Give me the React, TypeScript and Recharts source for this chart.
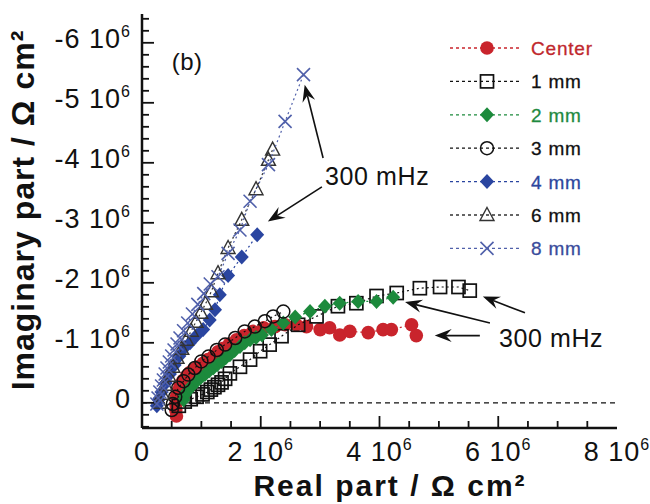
import React from 'react';
import {
  ScatterChart,
  Scatter,
  XAxis,
  YAxis,
  ReferenceLine,
  ReferenceDot,
  Legend,
} from 'recharts';

const FONT = '"Liberation Sans", Arial, Helvetica, sans-serif';
const INK = '#111';

// impedance in units of 10^6 Ω cm² (real part, imaginary part)
const centerRe = [0.58, 0.57, 0.57, 0.58, 0.61, 0.64, 0.69, 0.75, 0.8, 0.86, 0.94, 1.03, 1.11, 1.2, 1.28, 1.37, 1.47, 1.59, 1.72, 1.87, 2.05, 2.24, 2.41, 2.6, 2.77, 3.0, 3.16, 3.33, 3.5, 3.81, 4.06, 4.2, 4.54, 4.62];
const centerIm = [0.22, 0.12, 0.02, -0.1, -0.2, -0.3, -0.37, -0.44, -0.5, -0.55, -0.6, -0.66, -0.72, -0.77, -0.85, -0.91, -0.98, -1.05, -1.12, -1.19, -1.25, -1.27, -1.3, -1.3, -1.27, -1.22, -1.25, -1.13, -1.19, -1.17, -1.22, -1.22, -1.3, -1.12];

const mm1Re = [0.62, 0.72, 0.82, 0.92, 1.02, 1.1, 1.16, 1.22, 1.28, 1.34, 1.4, 1.48, 1.65, 1.82, 1.99, 2.15, 2.35, 2.63, 2.94, 3.3, 3.61, 3.95, 4.29, 4.68, 5.02, 5.33, 5.52];
const mm1Im = [0.05, -0.02, -0.06, -0.1, -0.14, -0.18, -0.22, -0.26, -0.3, -0.34, -0.4, -0.49, -0.6, -0.72, -0.86, -0.97, -1.11, -1.3, -1.44, -1.61, -1.66, -1.78, -1.83, -1.91, -1.93, -1.93, -1.87];

const mm2Re = [0.7, 0.72, 0.76, 0.81, 0.86, 0.92, 0.99, 1.06, 1.13, 1.2, 1.27, 1.34, 1.41, 1.48, 1.56, 1.65, 1.73, 1.82, 1.92, 2.02, 2.18, 2.38, 2.58, 2.83, 3.08, 3.33, 3.64, 3.95, 4.23];
const mm2Im = [-0.05, -0.13, -0.19, -0.25, -0.3, -0.36, -0.42, -0.47, -0.53, -0.58, -0.64, -0.69, -0.75, -0.8, -0.87, -0.94, -1.0, -1.05, -1.09, -1.13, -1.22, -1.33, -1.43, -1.52, -1.61, -1.66, -1.69, -1.69, -1.76];

const mm3Re = [0.5, 0.52, 0.56, 0.61, 0.7, 0.78, 0.89, 1.0, 1.12, 1.26, 1.4, 1.57, 1.73, 1.9, 2.07, 2.21, 2.38];
const mm3Im = [0.12, 0.02, -0.1, -0.25, -0.36, -0.47, -0.58, -0.69, -0.77, -0.88, -0.97, -1.08, -1.19, -1.27, -1.36, -1.44, -1.52];

const mm4Re = [0.25, 0.28, 0.33, 0.4, 0.47, 0.55, 0.63, 0.72, 0.81, 0.92, 1.03, 1.14, 1.23, 1.31, 1.45, 1.68, 1.94];
const mm4Im = [0.05, -0.05, -0.18, -0.33, -0.48, -0.63, -0.78, -0.92, -1.0, -1.12, -1.22, -1.38, -1.55, -1.8, -2.12, -2.43, -2.8];

const mm6Re = [0.3, 0.34, 0.39, 0.45, 0.52, 0.59, 0.67, 0.75, 0.83, 0.91, 0.99, 1.07, 1.17, 1.28, 1.45, 1.68, 1.92, 2.13, 2.2];
const mm6Im = [0.0, -0.15, -0.3, -0.45, -0.6, -0.75, -0.9, -1.05, -1.2, -1.35, -1.5, -1.65, -1.86, -2.16, -2.58, -3.05, -3.56, -4.05, -4.22];

const mm8Re = [0.25, 0.27, 0.3, 0.33, 0.36, 0.39, 0.42, 0.46, 0.5, 0.54, 0.59, 0.64, 0.7, 0.77, 0.85, 0.94, 1.04, 1.15, 1.28, 1.45, 1.65, 1.82, 2.13, 2.41, 2.72];
const mm8Im = [0.02, -0.08, -0.18, -0.28, -0.38, -0.48, -0.58, -0.68, -0.78, -0.88, -0.98, -1.08, -1.2, -1.33, -1.48, -1.64, -1.82, -1.98, -2.1, -2.49, -2.88, -3.36, -3.97, -4.69, -5.47];

const yMajor = [-6, -5, -4, -3, -2, -1, 0];
const xTicks = Array.from({ length: 17 }, (_, i) => i / 2);
const yTicks = Array.from({ length: 35 }, (_, i) => (i - 32) / 5);

const zip = (re: number[], im: number[]) => re.map((x, i) => ({ x, y: im[i] }));

type Kind = 'dot' | 'square' | 'diamond' | 'circle' | 'triangle' | 'cross';

const series: { name: string; data: { x: number; y: number }[]; color: string; text: string; kind: Kind }[] = [
  { name: 'Center', data: zip(centerRe, centerIm), color: '#c9242c', text: '#c0272d', kind: 'dot' },
  { name: '1 mm', data: zip(mm1Re, mm1Im), color: INK, text: INK, kind: 'square' },
  { name: '2 mm', data: zip(mm2Re, mm2Im), color: '#1c8a3c', text: '#1f8a3f', kind: 'diamond' },
  { name: '3 mm', data: zip(mm3Re, mm3Im), color: INK, text: INK, kind: 'circle' },
  { name: '4 mm', data: zip(mm4Re, mm4Im), color: '#2a45a0', text: '#2c479e', kind: 'diamond' },
  { name: '6 mm', data: zip(mm6Re, mm6Im), color: '#333', text: INK, kind: 'triangle' },
  { name: '8 mm', data: zip(mm8Re, mm8Im), color: '#5060aa', text: '#3a4c9c', kind: 'cross' },
];

// annotation arrows: tail -> head, in data units
const arrows = [
  [{ x: 3.05, y: -4.08 }, { x: 2.74, y: -5.3 }],
  [{ x: 3.03, y: -3.6 }, { x: 2.12, y: -3.02 }],
  [{ x: 6.45, y: -1.5 }, { x: 5.74, y: -1.77 }],
  [{ x: 5.86, y: -1.33 }, { x: 4.43, y: -1.68 }],
  [{ x: 5.69, y: -1.12 }, { x: 4.93, y: -1.12 }],
];
const noteSpots = [
  { x: 3.96, y: -3.78 },
  { x: 6.89, y: -1.08 },
];

function Marker({ kind, cx, cy, color }: { kind: Kind; cx: number; cy: number; color: string }) {
  switch (kind) {
    case 'dot':
      return <circle cx={cx} cy={cy} r={6.8} fill={color} />;
    case 'square':
      return <rect x={cx - 6.5} y={cy - 6.5} width={13} height={13} fill="none" stroke={color} strokeWidth={1.7} />;
    case 'diamond':
      return <path d={`M${cx},${cy - 7.5}L${cx + 7},${cy}L${cx},${cy + 7.5}L${cx - 7},${cy}Z`} fill={color} />;
    case 'circle':
      return <circle cx={cx} cy={cy} r={6.5} fill="none" stroke={color} strokeWidth={1.5} />;
    case 'triangle':
      return <path d={`M${cx},${cy - 7.5}L${cx + 7},${cy + 5.5}L${cx - 7},${cy + 5.5}Z`} fill="none" stroke={color} strokeWidth={1.4} />;
    default:
      return (
        <g stroke={color} strokeWidth={1.6}>
          <line x1={cx - 6.5} y1={cy - 6.5} x2={cx + 6.5} y2={cy + 6.5} />
          <line x1={cx - 6.5} y1={cy + 6.5} x2={cx + 6.5} y2={cy - 6.5} />
        </g>
      );
  }
}

const isInt = (v: number) => Math.abs(v - Math.round(v)) < 1e-6;

function TickText({ x, y, v, anchor }: { x: number; y: number; v: number; anchor: 'middle' | 'end' }) {
  const n = Math.round(v);
  return (
    <text x={x} y={y} textAnchor={anchor} fontFamily={FONT} fontSize={27} letterSpacing={1} fill={INK}>
      {n === 0 ? '0' : `${n} 10`}
      {n !== 0 && (
        <tspan dy={-11} fontSize={16}>
          6
        </tspan>
      )}
    </text>
  );
}

const BottomTick = (p: any) => {
  const v = p.payload.value;
  const major = isInt(v) && Math.round(v) % 2 === 0;
  const edge = v <= 0 || v >= 8;
  return (
    <g>
      {!edge && <line x1={p.x} y1={p.y} x2={p.x} y2={p.y - (major ? 12 : 7)} stroke={INK} strokeWidth={1.8} />}
      {major && <TickText x={p.x} y={p.y + 33} v={v} anchor="middle" />}
    </g>
  );
};

const TopTick = (p: any) => {
  const v = p.payload.value;
  const major = isInt(v) && Math.round(v) % 2 === 0;
  if (v <= 0 || v >= 8) return <g />;
  return <line x1={p.x} y1={p.y} x2={p.x} y2={p.y + (major ? 12 : 7)} stroke={INK} strokeWidth={1.8} />;
};

const LeftTick = (p: any) => {
  const v = p.payload.value;
  const major = isInt(v);
  return (
    <g>
      <line x1={p.x} y1={p.y} x2={p.x + (major ? 12 : 7)} y2={p.y} stroke={INK} strokeWidth={1.8} />
      {major && yMajor.includes(Math.round(v)) && <TickText x={p.x - 11} y={p.y + 5} v={v} anchor="end" />}
    </g>
  );
};

const RightTick = (p: any) => {
  const v = p.payload.value;
  const major = isInt(v);
  return <line x1={p.x} y1={p.y} x2={p.x - (major ? 12 : 7)} y2={p.y} stroke={INK} strokeWidth={1.8} />;
};

const Arrow = (p: any) => {
  const { x1, y1, x2, y2 } = p;
  const dx = x2 - x1;
  const dy = y2 - y1;
  const len = Math.hypot(dx, dy) || 1;
  const ux = dx / len;
  const uy = dy / len;
  const L = 17;
  const W = 6.5;
  const bx = x2 - ux * L;
  const by = y2 - uy * L;
  const nx = x2 - ux * (L - 6);
  const ny = y2 - uy * (L - 6);
  return (
    <g>
      <line x1={x1} y1={y1} x2={nx} y2={ny} stroke={INK} strokeWidth={1.6} />
      <path
        d={`M${x2},${y2}L${bx - uy * W},${by + ux * W}L${nx},${ny}L${bx + uy * W},${by - ux * W}Z`}
        fill={INK}
      />
    </g>
  );
};

const LegendBox = () => (
  <svg width={200} height={240} style={{ display: 'block' }}>
    {series.map((s, i) => {
      const cy = 18 + i * 33.4;
      return (
        <g key={s.name}>
          <line x1={10} x2={80} y1={cy} y2={cy} stroke={s.color} strokeWidth={1.3} strokeDasharray="3 3" />
          <Marker kind={s.kind} cx={47} cy={cy} color={s.color} />
          <text x={91} y={cy + 7} fontFamily={FONT} fontSize={19} letterSpacing={0.8} fill={s.text} stroke={s.text} strokeWidth={0.3}>
            {s.name}
          </text>
        </g>
      );
    })}
  </svg>
);

export default function App() {
  return (
    <div style={{ position: 'absolute', left: 0, top: 0, background: '#fff' }}>
      <ScatterChart width={650} height={504} margin={{ top: 14, right: 33, bottom: 0, left: 0 }}>
        <XAxis
          dataKey="x"
          type="number"
          domain={[0, 8]}
          ticks={xTicks}
          interval={0}
          allowDataOverflow
          height={76}
          tickSize={0}
          tickMargin={0}
          tickLine={false}
          tick={BottomTick}
          axisLine={{ stroke: INK, strokeWidth: 2.5 }}
          label={{
            content: () => (
              <text
                x={390}
                y={496}
                textAnchor="middle"
                fontFamily={FONT}
                fontWeight="bold"
                fontSize={30}
                letterSpacing={2}
                fill={INK}
              >
                Real part / Ω cm²
              </text>
            ),
          }}
        />
        <XAxis
          xAxisId="top"
          orientation="top"
          type="number"
          domain={[0, 8]}
          ticks={xTicks}
          interval={0}
          allowDataOverflow
          height={0}
          tickSize={0}
          tickMargin={0}
          tickLine={false}
          tick={TopTick}
          axisLine={{ stroke: INK, strokeWidth: 2.5 }}
        />
        <YAxis
          dataKey="y"
          type="number"
          domain={[-6.48, 0.42]}
          reversed
          ticks={yTicks}
          interval={0}
          allowDataOverflow
          width={142}
          tickSize={0}
          tickMargin={0}
          tickLine={false}
          tick={LeftTick}
          axisLine={{ stroke: INK, strokeWidth: 2.5 }}
          label={{
            content: () => (
              <text
                x={34}
                y={210}
                transform="rotate(-90 34 210)"
                textAnchor="middle"
                fontFamily={FONT}
                fontWeight="bold"
                fontSize={32}
                letterSpacing={1}
                fill={INK}
              >
                Imaginary part / Ω cm²
              </text>
            ),
          }}
        />
        <YAxis
          yAxisId="right"
          orientation="right"
          type="number"
          domain={[-6.48, 0.42]}
          reversed
          ticks={yTicks}
          interval={0}
          allowDataOverflow
          width={0}
          tickSize={0}
          tickMargin={0}
          tickLine={false}
          tick={RightTick}
          axisLine={{ stroke: INK, strokeWidth: 2.5 }}
        />
        <ReferenceLine y={0} stroke={INK} strokeWidth={1.2} strokeDasharray="5 4" />
        {series.map((s) => (
          <Scatter
            key={s.name}
            name={s.name}
            data={s.data}
            fill={s.color}
            line={{ stroke: s.color, strokeWidth: 1.2, strokeDasharray: '2 3' }}
            isAnimationActive={false}
            shape={(p: any) => <Marker kind={s.kind} cx={p.cx} cy={p.cy} color={s.color} />}
          />
        ))}
        {arrows.map((seg, i) => (
          <ReferenceLine key={`a${i}`} segment={seg} ifOverflow="visible" shape={Arrow} />
        ))}
        {noteSpots.map((pt, i) => (
          <ReferenceDot
            key={`n${i}`}
            x={pt.x}
            y={pt.y}
            r={0}
            ifOverflow="visible"
            shape={(p: any) => (
              <text x={p.cx} y={p.cy + 9} textAnchor="middle" fontFamily={FONT} fontSize={25} letterSpacing={0.6} fill={INK}>
                300 mHz
              </text>
            )}
          />
        ))}
        <ReferenceDot
          x={0.76}
          y={-5.68}
          r={0}
          ifOverflow="visible"
          shape={(p: any) => (
            <text x={p.cx} y={p.cy + 8} textAnchor="middle" fontFamily={FONT} fontSize={24} letterSpacing={0.5} fill={INK}>
              (b)
            </text>
          )}
        />
        <Legend
          layout="vertical"
          align="center"
          verticalAlign="middle"
          content={LegendBox}
          wrapperStyle={{ left: 440, top: 30, width: 200, height: 240 }}
        />
      </ScatterChart>
    </div>
  );
}
